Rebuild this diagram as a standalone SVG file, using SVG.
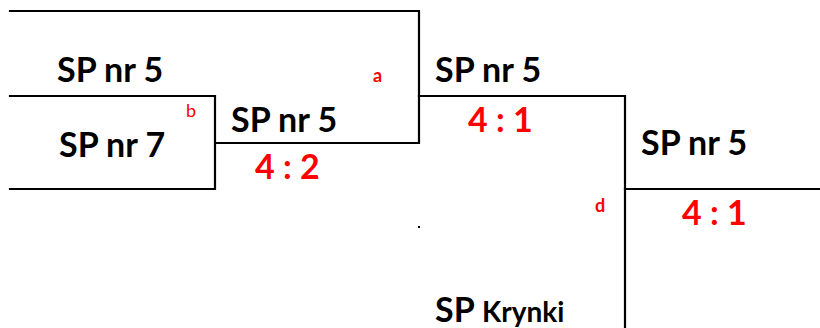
<svg xmlns="http://www.w3.org/2000/svg" width="820" height="328" viewBox="0 0 820 328">
<style>
.ln{fill:none;stroke:#000;stroke-width:2.2;stroke-linecap:square}
.t{font-family:Lato,"Open Sans","Liberation Sans",sans-serif;font-weight:700;font-size:34px;fill:#000}
.s{font-family:Lato,"Open Sans","Liberation Sans",sans-serif;font-weight:700;font-size:34px;fill:#FF0000}
.l{font-family:Lato,"Open Sans","Liberation Sans",sans-serif;font-size:18px;fill:#FF0000}
</style>
<rect width="820" height="328" fill="#fff"/>
<g id="connectors">
<path class="ln" d="M10 11 H419 V143 H216"/>
<path class="ln" d="M10 96 H215 V189 H10"/>
<path class="ln" d="M419 96 H625 V328"/>
<path class="ln" d="M625 189 H820"/>
<rect x="418" y="226" width="2" height="2" fill="#000"/>
</g>
<g id="n1"><text class="t" x="57" y="82">SP nr 5</text></g>
<g id="n2"><text class="t" x="59" y="157">SP nr 7</text></g>
<g id="n3"><text class="t" x="231" y="132">SP nr 5</text><text class="s" x="255" y="179">4 : 2</text></g>
<g id="n4"><text class="t" x="435" y="82">SP nr 5</text><text class="s" x="468" y="132">4 : 1</text></g>
<g id="n5"><text class="t" x="641" y="155">SP nr 5</text><text class="s" x="682" y="225">4 : 1</text></g>
<g id="n6"><text class="t" x="435" y="322">SP <tspan font-size="28">Krynki</tspan></text></g>
<g id="labels">
<text class="l" x="373" y="82" font-weight="700">a</text>
<text class="l" x="186" y="117">b</text>
<text class="l" x="595" y="212" font-weight="700">d</text>
</g>
</svg>
